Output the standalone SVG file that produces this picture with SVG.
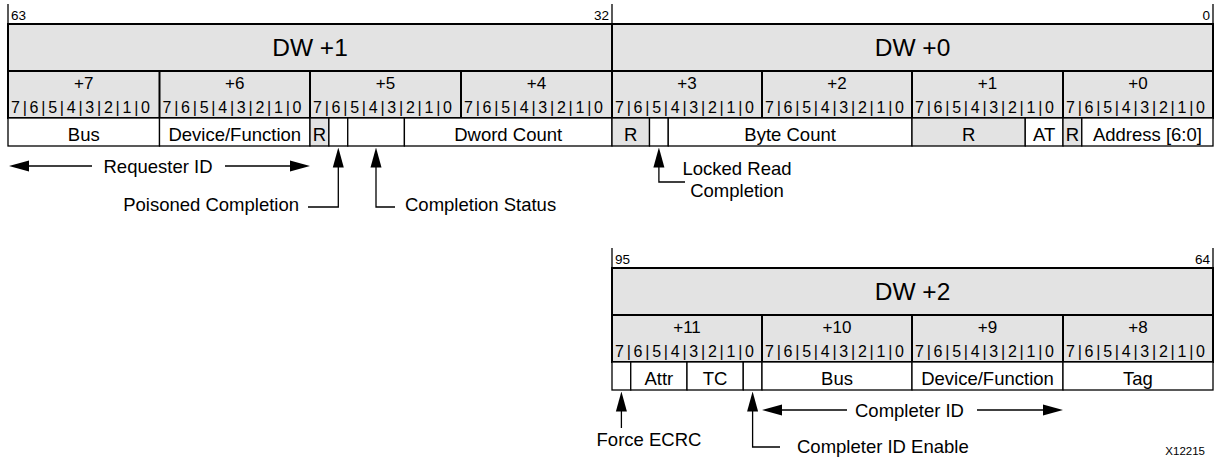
<svg xmlns="http://www.w3.org/2000/svg" width="1219" height="465" viewBox="0 0 1219 465">
<style>
text{font-family:"Liberation Sans",Arial,Helvetica,sans-serif;fill:#000}
.g{fill:#e3e3e3;stroke:#000;stroke-width:2}
.sep{stroke:#000;stroke-width:2}
.f{fill:#fff;stroke:#000;stroke-width:1.3}
.fr{fill:#e3e3e3;stroke:#000;stroke-width:1.3}
.dw{font-size:24.5px;text-anchor:middle}
.by{font-size:17px;text-anchor:middle}
.bit{font-size:16px}
.fl{font-size:18.5px;text-anchor:middle}
.lb{font-size:18.5px}
.num{font-size:13.5px}
.tk{stroke:#000;stroke-width:1.3}
.c{fill:none;stroke:#000;stroke-width:1.3}
</style>
<defs>
<marker id="ah" markerUnits="userSpaceOnUse" markerWidth="20" markerHeight="12" refX="10" refY="6" orient="auto">
<path d="M0,0.5 L20,6 L0,11.5 Z" fill="#000"/>
</marker>
</defs>

<g id="dw1">
<line class="tk" x1="8" y1="4" x2="8" y2="24"/>
<line class="tk" x1="612" y1="4" x2="612" y2="24"/>
<text class="num" x="11" y="20">63</text>
<text class="num" x="609" y="20" text-anchor="end">32</text>
<rect class="g" x="8" y="24" width="604" height="47"/>
<text class="dw" x="310" y="56">DW +1</text>
<rect class="g" x="8" y="71" width="604" height="47"/>
<line class="sep" x1="159.5" y1="71" x2="159.5" y2="118"/>
<line class="sep" x1="310" y1="71" x2="310" y2="118"/>
<line class="sep" x1="461" y1="71" x2="461" y2="118"/>
<text class="by" x="83.75" y="89">+7</text>
<text class="by" x="234.75" y="89">+6</text>
<text class="by" x="385.5" y="89">+5</text>
<text class="by" x="536.5" y="89">+4</text>
<text class="bit" x="11" y="112.5" textLength="139" lengthAdjust="spacing">7|6|5|4|3|2|1|0</text>
<text class="bit" x="162.5" y="112.5" textLength="139" lengthAdjust="spacing">7|6|5|4|3|2|1|0</text>
<text class="bit" x="313" y="112.5" textLength="139" lengthAdjust="spacing">7|6|5|4|3|2|1|0</text>
<text class="bit" x="464" y="112.5" textLength="139" lengthAdjust="spacing">7|6|5|4|3|2|1|0</text>
</g>

<g id="dw0">
<line class="tk" x1="1213" y1="4" x2="1213" y2="24"/>
<text class="num" x="1210" y="20" text-anchor="end">0</text>
<rect class="g" x="612" y="24" width="601" height="47"/>
<text class="dw" x="912.5" y="56">DW +0</text>
<rect class="g" x="612" y="71" width="601" height="47"/>
<line class="sep" x1="762" y1="71" x2="762" y2="118"/>
<line class="sep" x1="912" y1="71" x2="912" y2="118"/>
<line class="sep" x1="1063" y1="71" x2="1063" y2="118"/>
<text class="by" x="687" y="89">+3</text>
<text class="by" x="837" y="89">+2</text>
<text class="by" x="987.5" y="89">+1</text>
<text class="by" x="1138" y="89">+0</text>
<text class="bit" x="615" y="112.5" textLength="139" lengthAdjust="spacing">7|6|5|4|3|2|1|0</text>
<text class="bit" x="765" y="112.5" textLength="139" lengthAdjust="spacing">7|6|5|4|3|2|1|0</text>
<text class="bit" x="915" y="112.5" textLength="139" lengthAdjust="spacing">7|6|5|4|3|2|1|0</text>
<text class="bit" x="1066" y="112.5" textLength="139" lengthAdjust="spacing">7|6|5|4|3|2|1|0</text>
</g>

<g id="dw2">
<line class="tk" x1="612" y1="248" x2="612" y2="268"/>
<line class="tk" x1="1213" y1="248" x2="1213" y2="268"/>
<text class="num" x="615" y="264">95</text>
<text class="num" x="1210" y="264" text-anchor="end">64</text>
<rect class="g" x="612" y="268" width="601" height="47"/>
<text class="dw" x="912.5" y="300">DW +2</text>
<rect class="g" x="612" y="315" width="601" height="47"/>
<line class="sep" x1="762" y1="315" x2="762" y2="362"/>
<line class="sep" x1="912" y1="315" x2="912" y2="362"/>
<line class="sep" x1="1063" y1="315" x2="1063" y2="362"/>
<text class="by" x="687" y="333">+11</text>
<text class="by" x="837" y="333">+10</text>
<text class="by" x="987.5" y="333">+9</text>
<text class="by" x="1138" y="333">+8</text>
<text class="bit" x="615" y="356.5" textLength="139" lengthAdjust="spacing">7|6|5|4|3|2|1|0</text>
<text class="bit" x="765" y="356.5" textLength="139" lengthAdjust="spacing">7|6|5|4|3|2|1|0</text>
<text class="bit" x="915" y="356.5" textLength="139" lengthAdjust="spacing">7|6|5|4|3|2|1|0</text>
<text class="bit" x="1066" y="356.5" textLength="139" lengthAdjust="spacing">7|6|5|4|3|2|1|0</text>
</g>

<g id="f-bus1"><rect class="f" x="8" y="118" width="151.5" height="28"/><text class="fl" x="83.75" y="140.5">Bus</text></g>
<g id="f-devfn1"><rect class="f" x="159.5" y="118" width="150.5" height="28"/><text class="fl" x="234.75" y="140.5">Device/Function</text></g>
<g id="f-r1"><rect class="fr" x="310" y="118" width="18.9" height="28"/><text class="fl" x="319.45" y="140.5">R</text></g>
<g id="f-ep"><rect class="f" x="328.9" y="118" width="18.85" height="28"/></g>
<g id="f-cs"><rect class="f" x="347.75" y="118" width="56.65" height="28"/></g>
<g id="f-dc"><rect class="f" x="404.4" y="118" width="207.6" height="28"/><text class="fl" x="508.2" y="140.5">Dword Count</text></g>
<g id="f-r2"><rect class="fr" x="612" y="118" width="37.5" height="28"/><text class="fl" x="630.75" y="140.5">R</text></g>
<g id="f-lk"><rect class="f" x="649.5" y="118" width="18.75" height="28"/></g>
<g id="f-bc"><rect class="f" x="668.25" y="118" width="243.75" height="28"/><text class="fl" x="790.1" y="140.5">Byte Count</text></g>
<g id="f-r3"><rect class="fr" x="912" y="118" width="113.25" height="28"/><text class="fl" x="968.6" y="140.5">R</text></g>
<g id="f-at"><rect class="f" x="1025.25" y="118" width="37.75" height="28"/><text class="fl" x="1044.1" y="140.5">AT</text></g>
<g id="f-r4"><rect class="fr" x="1063" y="118" width="18.8" height="28"/><text class="fl" x="1072.4" y="140.5">R</text></g>
<g id="f-addr"><rect class="f" x="1081.8" y="118" width="131.2" height="28"/><text class="fl" x="1147.4" y="140.5">Address [6:0]</text></g>

<g id="f-fe"><rect class="f" x="612" y="362" width="18.75" height="28"/></g>
<g id="f-attr"><rect class="f" x="630.75" y="362" width="56.25" height="28"/><text class="fl" x="658.9" y="384.5">Attr</text></g>
<g id="f-tc"><rect class="f" x="687" y="362" width="56.25" height="28"/><text class="fl" x="715.1" y="384.5">TC</text></g>
<g id="f-ce"><rect class="f" x="743.25" y="362" width="18.75" height="28"/></g>
<g id="f-bus2"><rect class="f" x="762" y="362" width="150" height="28"/><text class="fl" x="837" y="384.5">Bus</text></g>
<g id="f-devfn2"><rect class="f" x="912" y="362" width="151" height="28"/><text class="fl" x="987.5" y="384.5">Device/Function</text></g>
<g id="f-tag"><rect class="f" x="1063" y="362" width="150" height="28"/><text class="fl" x="1138" y="384.5">Tag</text></g>

<g id="connectors">
<line class="c" x1="92" y1="166" x2="19" y2="166" marker-end="url(#ah)"/>
<line class="c" x1="225" y1="166" x2="300" y2="166" marker-end="url(#ah)"/>
<path class="c" d="M308,207 H338.3 V157.5" marker-end="url(#ah)"/>
<path class="c" d="M395,207 H376 V157.5" marker-end="url(#ah)"/>
<path class="c" d="M685,182 H658.9 V157.5" marker-end="url(#ah)"/>
<path class="c" d="M621.4,428 V401.5" marker-end="url(#ah)"/>
<path class="c" d="M780,447 H752.6 V401.5" marker-end="url(#ah)"/>
<line class="c" x1="847" y1="410" x2="772" y2="410" marker-end="url(#ah)"/>
<line class="c" x1="977" y1="410" x2="1053" y2="410" marker-end="url(#ah)"/>
</g>

<g id="labels">
<text class="lb" x="158" y="172.5" text-anchor="middle">Requester ID</text>
<text class="lb" x="299" y="210.5" text-anchor="end">Poisoned Completion</text>
<text class="lb" x="405" y="210.5">Completion Status</text>
<text class="lb" x="737" y="174.5" text-anchor="middle">Locked Read</text>
<text class="lb" x="737" y="196.5" text-anchor="middle">Completion</text>
<text class="lb" x="649" y="445.5" text-anchor="middle">Force ECRC</text>
<text class="lb" x="797" y="453">Completer ID Enable</text>
<text class="lb" x="855" y="416.5">Completer ID</text>
<text x="1205" y="455" text-anchor="end" font-size="11.5">X12215</text>
</g>
</svg>
